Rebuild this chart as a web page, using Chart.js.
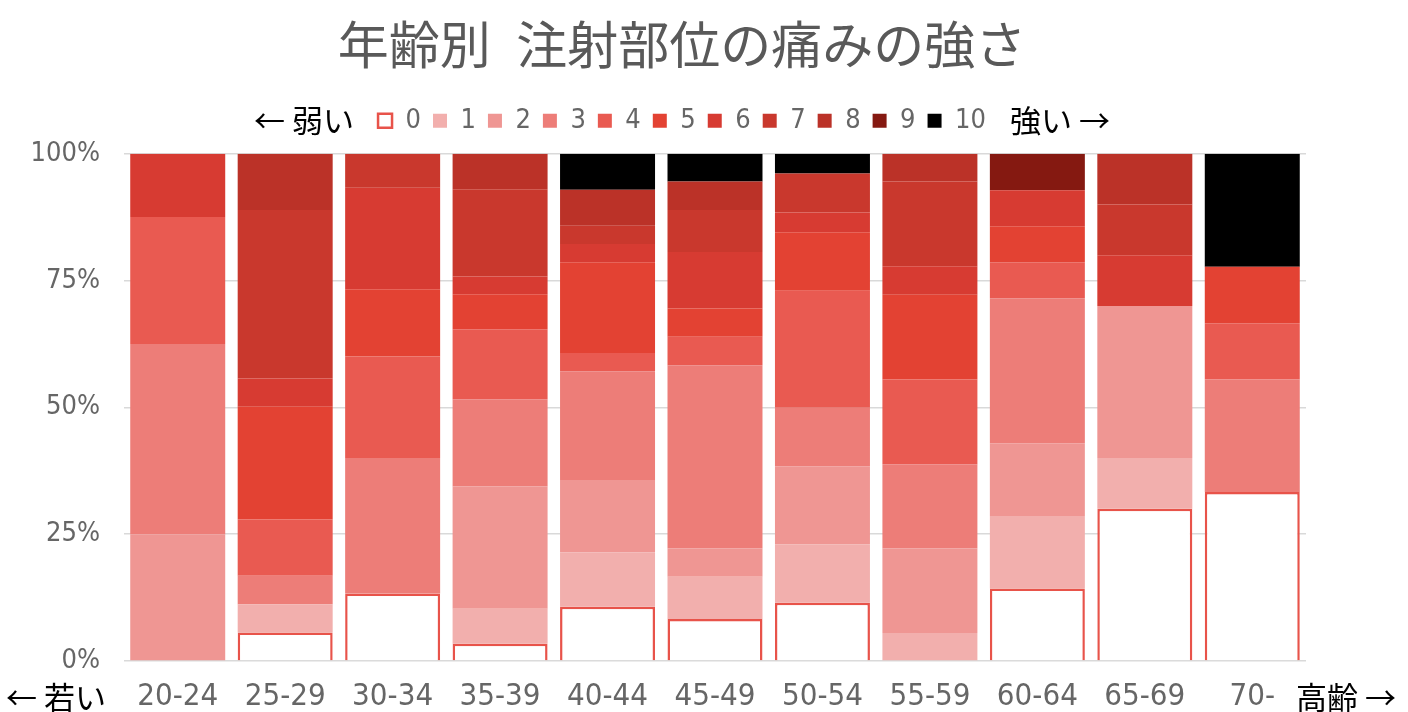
<!DOCTYPE html>
<html lang="ja">
<head>
<meta charset="utf-8">
<title>年齢別 注射部位の痛みの強さ</title>
<script src="https://cdn.jsdelivr.net/npm/chart.js@4/dist/chart.umd.min.js"></script>
<style>
  html, body { margin: 0; padding: 0; background: #fff; }
  #wrap { width: 1408px; height: 712px; }
</style>
</head>
<body>
<div id="wrap"><canvas id="painChart" width="1408" height="712"></canvas></div>
<script>
// age groups along the x axis
var ageGroups = ["20-24", "25-29", "30-34", "35-39", "40-44", "45-49", "50-54", "55-59", "60-64", "65-69", "70-"];
// pain level (0 = none ... 10 = strongest)
var levels = ["0", "1", "2", "3", "4", "5", "6", "7", "8", "9", "10"];

// share of answers (%) per age group, one array per pain level
var pain0  = [0,    5.6,  13.3, 3.4,  10.7, 8.3,  11.5, 0,    14.3, 30, 33.3];
var pain1  = [0,    5.6,  0,    6.9,  10.7, 8.3,  11.5, 5.5,  14.3, 10, 0];
var pain2  = [25,   0,    0,    24.1, 14.3, 5.6,  15.4, 16.7, 14.3, 30, 0];
var pain3  = [37.5, 5.6,  26.7, 17.2, 21.4, 36.1, 11.5, 16.6, 28.6, 0,  22.2];
var pain4  = [25,   11.1, 20,   13.8, 3.6,  5.6,  23.1, 16.7, 7.1,  0,  11.1];
var pain5  = [0,    22.2, 13.3, 6.9,  17.9, 5.6,  11.5, 16.7, 7.1,  0,  11.1];
var pain6  = [12.5, 5.6,  20,   3.5,  3.6,  11.1, 3.9,  5.6,  7.1,  10, 0];
var pain7  = [0,    33.2, 6.7,  17.2, 3.6,  8.3,  7.7,  16.7, 0,    10, 0];
var pain8  = [0,    11.1, 0,    7.0,  7.1,  5.6,  0,    5.5,  0,    10, 0];
var pain9  = [0,    0,    0,    0,    0,    0,    0,    0,    7.2,  0,  0];
var pain10 = [0,    0,    0,    0,    7.1,  5.5,  3.9,  0,    0,    0,  22.3];

var painSeries = [pain0, pain1, pain2, pain3, pain4, pain5, pain6, pain7, pain8, pain9, pain10];
var levelColors = ["#ffffff", "#f2afad", "#ef9693", "#ed7d78", "#e95a51", "#e34233",
                   "#d73b32", "#c9382d", "#bb3228", "#851911", "#000000"];

var narrowFont = "'Liberation Sans Narrow', 'DejaVu Sans Condensed', 'Roboto', sans-serif";
var jpFont = "'Noto Sans CJK JP', sans-serif";

var datasets = levels.map(function(lv, i) {
  return {
    label: lv,
    data: painSeries[i],
    backgroundColor: levelColors[i],
    borderColor: i === 0 ? "#e8534a" : levelColors[i],
    borderWidth: i === 0 ? 2.5 : 0,
    categoryPercentage: 1,
    barPercentage: 0.884
  };
});

// arrows / captions beside the legend and the x axis
var sideLabels = {
  id: "sideLabels",
  afterDraw: function(chart) {
    var ctx = chart.ctx;
    var boxes = chart.legend.legendHitBoxes;
    var first = boxes[0];
    var last = boxes[boxes.length - 1];
    var legendMid = first.top + first.height / 2;
    var area = chart.chartArea;
    var xMid = area.bottom + 36;
    ctx.save();
    ctx.fillStyle = "#000";
    ctx.font = "31px " + jpFont;
    ctx.textBaseline = "middle";
    ctx.textAlign = "right";
    ctx.fillText("← 弱い", first.left - 24, legendMid);
    ctx.fillText("← 若い", area.left - 18, xMid);
    ctx.textAlign = "left";
    ctx.fillText("強い →", last.left + last.width + 24, legendMid);
    ctx.fillText("高齢 →", area.right - 10, xMid);
    ctx.restore();
  }
};

new Chart(document.getElementById("painChart"), {
  type: "bar",
  data: { labels: ageGroups, datasets: datasets },
  plugins: [sideLabels],
  options: {
    responsive: false,
    animation: false,
    layout: { padding: { left: 0, right: 44, top: 0, bottom: 0 } },
    scales: {
      x: {
        stacked: true,
        grid: { display: false, drawTicks: false },
        border: { display: false },
        ticks: { color: "#666", padding: 17, font: { family: narrowFont, size: 31 } },
        afterFit: function(s) { s.height = 51; s.paddingRight = 102; }
      },
      y: {
        stacked: true,
        min: 0,
        max: 100,
        grid: { color: "#d9d9d9", lineWidth: 1.5, drawTicks: false },
        border: { display: false },
        ticks: {
          stepSize: 25,
          color: "#666",
          padding: 24,
          font: { family: narrowFont, size: 27 },
          callback: function(v) { return v + "%"; }
        },
        afterFit: function(s) { s.width = 124; }
      }
    },
    plugins: {
      title: {
        display: true,
        text: "年齢別\u2002注射部位の痛みの強さ",
        color: "#595959",
        font: { family: jpFont, size: 51, weight: "normal", lineHeight: 1.2 },
        padding: { top: 14, bottom: 20 }
      },
      subtitle: {
        display: true,
        text: "",
        weight: 500,
        font: { size: 1, lineHeight: 1 },
        padding: { top: 0, bottom: 8.5 }
      },
      legend: {
        position: "top",
        labels: {
          boxWidth: 14,
          boxHeight: 14,
          padding: 12,
          color: "#666",
          font: { family: narrowFont, size: 27 }
        }
      },
      tooltip: { enabled: false }
    }
  }
});
</script>
</body>
</html>
